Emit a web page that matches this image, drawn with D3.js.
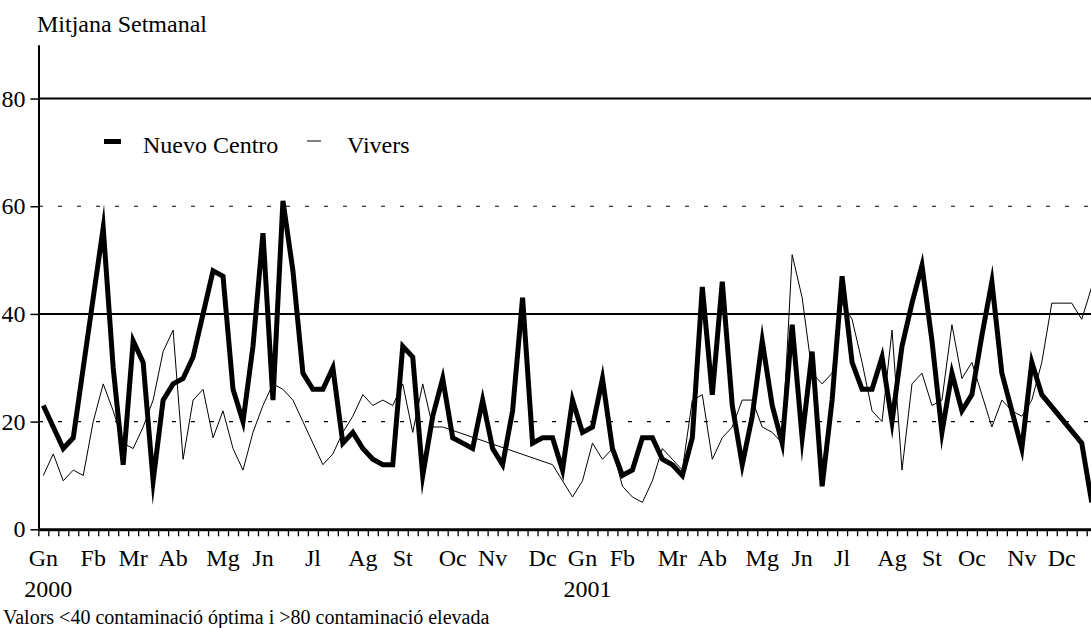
<!DOCTYPE html>
<html>
<head>
<meta charset="utf-8">
<script src="https://cdn.jsdelivr.net/npm/d3@7"></script>
<style>
body { margin: 0; background: #fff; }
text { font-family: "Liberation Serif", "Times New Roman", serif; fill: #000; }
</style>
</head>
<body>
<div id="chart"></div>
<script>
// weekly means, 2000-2001 (null = no value that week, the line just joins over it)
var nuevoCentro = [23, 19, 15, 17, 30, 43, 56, 30, 12, 35, 31, 9, 24, 27, 28, 32, 40, 48, 47, 26,
	20, 34, 55, 24, 61, 48, 29, 26, 26, 30, 16, 18, 15, 13, 12, 12, 34, 32, 10, 21,
	28, 17, 16, 15, 24, 15, 12, 22, 43, 16, 17, 17, 11, 24, 18, 19, 28, 15, 10, 11,
	17, 17, 13, 12, 10, 17, 45, 25, 46, 23, 12, 21, 35, 23, 16, 38, 17, 33, 8, 24,
	47, 31, 26, 26, 32, 20, 34, 42, 49, 35, 18, 29, 22, 25, 36, 46, 29, 22, 15, 31,
	25, null, null, null, 16, 5];
var vivers = [10, 14, 9, 11, 10, 20, 27, 22, 16, 15, 19, 24, 33, 37, 13, 24, 26, 17, 22, 15,
	11, 18, 23, 27, 26, 24, 20, 16, 12, 14, 18, 21, 25, 23, 24, 23, 27, 18, 27, 19,
	19, null, null, null, null, null, null, null, null, null, null, 12, 9, 6, 9, 16, 13, 15, 8, 6,
	5, 9, 15, 13, 11, 24, 25, 13, 17, 19, 24, 24, 19, 18, 16, 51, 43, 29, 27, 29,
	42, 39, 31, 22, 20, 37, 11, 27, 29, 23, 24, 38, 28, 31, 25, 19, 24, 22, 21, 24,
	31, 42, 42, 42, 39, 45];

var monthIndex = [0, 5, 9, 13, 18, 22, 27, 32, 36, 41, 45, 50, 54, 58, 63, 67, 72, 76, 80, 85, 89, 93, 98, 102];
var monthNames = ["Gn", "Fb", "Mr", "Ab", "Mg", "Jn", "Jl", "Ag", "St", "Oc", "Nv", "Dc",
	"Gn", "Fb", "Mr", "Ab", "Mg", "Jn", "Jl", "Ag", "St", "Oc", "Nv", "Dc"];
var yearIndex = [0, 54];
var yearNames = ["2000", "2001"];
var yTicks = [0, 20, 40, 60, 80];
var solidLines = [40, 80];
var dottedLines = [20, 60];

var width = 1091, height = 628;
var step = 9.985;
var n = nuevoCentro.length;

var svg = d3.select("#chart").append("svg")
	.attr("width", width)
	.attr("height", height)
	.style("display", "block");

svg.append("rect").attr("width", width).attr("height", height).attr("fill", "#fff");

// one slot per week, the plot runs a little past the right edge of the picture
var x = d3.scaleLinear()
	.domain([-0.5, n - 0.5])
	.range([43.3 - step / 2, 43.3 + step * (n - 0.5)]);

var y = d3.scaleLinear()
	.domain([0, 90])
	.range([529.3, 44.7]);

// reference lines
svg.selectAll(".dotted")
	.data(dottedLines)
	.enter().append("line")
	.attr("class", "dotted")
	.attr("x1", 39).attr("x2", width + 20)
	.attr("y1", function(d) { return y(d); })
	.attr("y2", function(d) { return y(d); })
	.attr("stroke", "#000")
	.attr("stroke-width", 1.2)
	.attr("stroke-dasharray", "4,15");

svg.selectAll(".solid")
	.data(solidLines)
	.enter().append("line")
	.attr("class", "solid")
	.attr("x1", 39).attr("x2", width + 20)
	.attr("y1", function(d) { return y(d); })
	.attr("y2", function(d) { return y(d); })
	.attr("stroke", "#000")
	.attr("stroke-width", 2);

var line = d3.line()
	.x(function(d) { return x(d.i); })
	.y(function(d) { return y(d.v); });

function points(arr) {
	return arr.map(function(v, i) { return {i: i, v: v}; })
		.filter(function(d) { return d.v != null; });
}

svg.append("path")
	.datum(points(vivers))
	.attr("d", line)
	.attr("fill", "none")
	.attr("stroke", "#000")
	.attr("stroke-width", 1);

svg.append("path")
	.datum(points(nuevoCentro))
	.attr("d", line)
	.attr("fill", "none")
	.attr("stroke", "#000")
	.attr("stroke-width", 5)
	.attr("stroke-linejoin", "miter")
	.attr("stroke-miterlimit", 10);

// y axis
var yAxis = d3.axisLeft(y).tickValues(yTicks).tickSize(8).tickSizeOuter(0).tickPadding(5);
var gy = svg.append("g")
	.attr("transform", "translate(38.5,0)")
	.call(yAxis);
gy.select(".domain").attr("stroke-width", 2);
gy.selectAll(".tick line").attr("stroke-width", 1.5);
gy.selectAll(".tick text")
	.attr("font-size", 24)
	.attr("font-family", "Liberation Serif, serif");

// x axis: one tick between every week
var xAxis = d3.axisBottom(x)
	.tickValues(d3.range(n + 1).map(function(i) { return i - 0.5; }))
	.tickSize(7)
	.tickSizeOuter(0)
	.tickFormat("");
var gx = svg.append("g")
	.attr("transform", "translate(0," + y(0) + ")")
	.call(xAxis);
gx.select(".domain").attr("stroke-width", 3);
gx.selectAll(".tick line").attr("stroke-width", 1.3);

svg.selectAll(".month")
	.data(monthIndex)
	.enter().append("text")
	.attr("class", "month")
	.attr("x", function(d) { return x(d); })
	.attr("y", 566)
	.attr("text-anchor", "middle")
	.attr("font-size", 24)
	.text(function(d, i) { return monthNames[i]; });

svg.selectAll(".year")
	.data(yearIndex)
	.enter().append("text")
	.attr("class", "year")
	.attr("x", function(d) { return x(d) + 5; })
	.attr("y", 597)
	.attr("text-anchor", "middle")
	.attr("font-size", 24)
	.text(function(d, i) { return yearNames[i]; });

// title and note
svg.append("text")
	.attr("x", 37).attr("y", 32)
	.attr("font-size", 24)
	.text("Mitjana Setmanal");

svg.append("text")
	.attr("x", 3).attr("y", 624)
	.attr("font-size", 20)
	.text("Valors <40 contaminació óptima i >80 contaminació elevada");

// legend
var legend = svg.append("g");
legend.append("line")
	.attr("x1", 104).attr("x2", 121).attr("y1", 141.5).attr("y2", 141.5)
	.attr("stroke", "#000").attr("stroke-width", 5);
legend.append("text")
	.attr("x", 143).attr("y", 152.5)
	.attr("font-size", 24)
	.text("Nuevo Centro");
legend.append("line")
	.attr("x1", 307).attr("x2", 321).attr("y1", 141).attr("y2", 141)
	.attr("stroke", "#000").attr("stroke-width", 1);
legend.append("text")
	.attr("x", 347).attr("y", 152.5)
	.attr("font-size", 24)
	.text("Vivers");
</script>
</body>
</html>
